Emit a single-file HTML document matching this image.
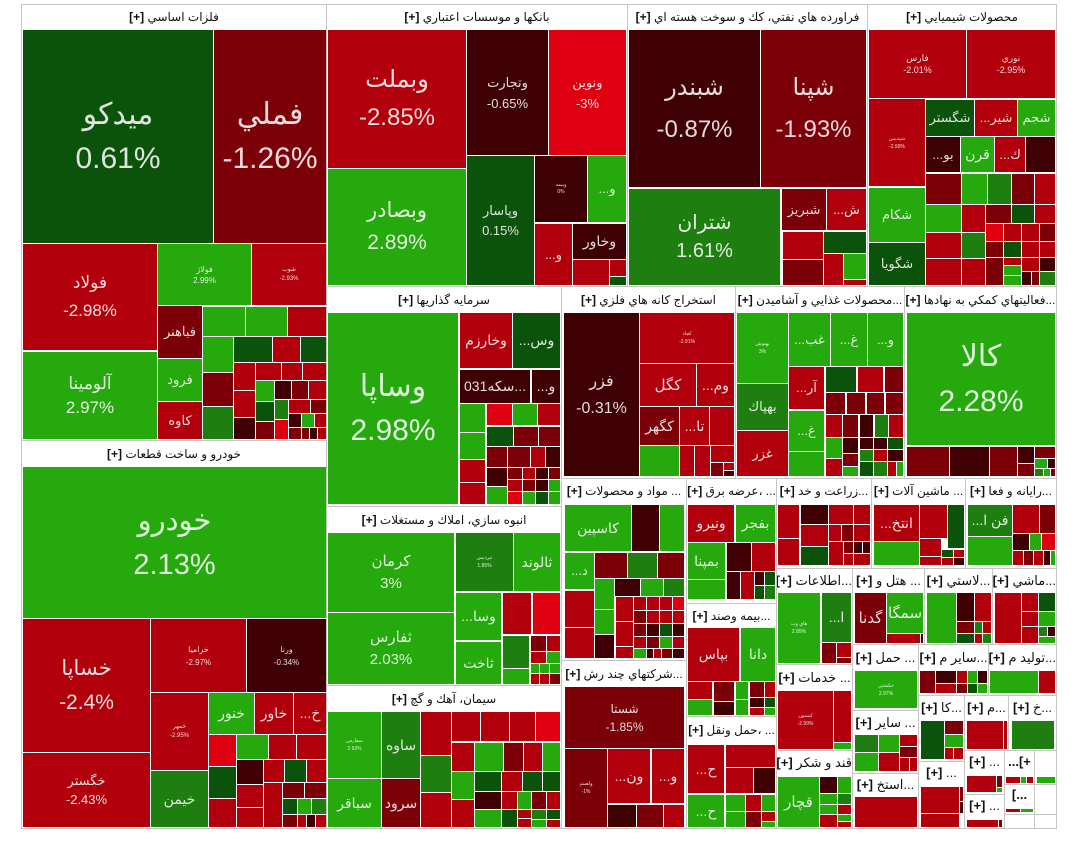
<!DOCTYPE html>
<html><head><meta charset="utf-8">
<style>
html,body{margin:0;padding:0}
body{width:1080px;height:856px;background:#fff;position:relative;overflow:hidden;font-family:"Liberation Sans","DejaVu Sans",sans-serif}
.g{position:absolute;box-sizing:border-box;border:1px solid #c6c6c6;background:#fff;direction:rtl;text-align:center;font-size:12px;color:#111;white-space:nowrap;overflow:hidden;line-height:24px}
.g b{font-weight:bold;font-family:"Liberation Sans",sans-serif}
.s{font-size:13px;line-height:22px}
.c{position:absolute;display:flex;flex-direction:column;align-items:center;justify-content:center;color:rgba(255,255,255,.86);overflow:hidden;white-space:nowrap;font-size:13px}
.c b{font-weight:normal;display:block;text-align:center}
.G{background:#0b530b}.B{background:#25a90d}.M{background:#1e7f10}
.R{background:#b1000c}.D{background:#7b0008}.K{background:#3f0003}.E{background:#de0010}
</style></head><body>

<!-- groups -->
<div class="g" style="left:21px;top:4px;width:306px;height:437px;line-height:25px">فلزات اساسي <b>[+]</b></div>
<div class="g" style="left:21px;top:440px;width:306px;height:389px;line-height:27px">خودرو و ساخت قطعات <b>[+]</b></div>
<div class="g" style="left:326px;top:4px;width:302px;height:283px;line-height:25px">بانكها و موسسات اعتباري <b>[+]</b></div>
<div class="g" style="left:627px;top:4px;width:241px;height:283px;line-height:25px">فراورده هاي نفتي، كك و سوخت هسته اي <b>[+]</b></div>
<div class="g" style="left:867px;top:4px;width:190px;height:283px;line-height:25px">محصولات شيميايي <b>[+]</b></div>
<div class="g" style="left:326px;top:286px;width:236px;height:221px;line-height:26px">سرمايه گذاريها <b>[+]</b></div>
<div class="g" style="left:561px;top:286px;width:175px;height:193px;line-height:26px">استخراج كانه هاي فلزي <b>[+]</b></div>
<div class="g" style="left:735px;top:286px;width:170px;height:193px;line-height:26px">...محصولات غذايي و آشاميدن <b>[+]</b></div>
<div class="g" style="left:904px;top:286px;width:153px;height:193px;line-height:26px">...فعاليتهاي كمكي به نهادها <b>[+]</b></div>
<div class="g" style="left:326px;top:506px;width:236px;height:180px;line-height:26px">انبوه سازي، املاك و مستغلات <b>[+]</b></div>
<div class="g" style="left:326px;top:685px;width:236px;height:144px;line-height:26px">سيمان، آهك و گچ <b>[+]</b></div>
<div class="g" style="left:561px;top:478px;width:126px;height:183px;line-height:25px">... مواد و محصولات <b>[+]</b></div>
<div class="g" style="left:561px;top:660px;width:126px;height:169px;line-height:26px">...شركتهاي چند رش <b>[+]</b></div>
<div class="g" style="left:686px;top:478px;width:91px;height:126px;line-height:25px">... ،عرضه برق <b>[+]</b></div>
<div class="g" style="left:686px;top:603px;width:91px;height:114px;line-height:25px">...بيمه وصند <b>[+]</b></div>
<div class="g" style="left:686px;top:716px;width:91px;height:113px;line-height:26px">... ،حمل ونقل <b>[+]</b></div>
<div class="g" style="left:776px;top:478px;width:96px;height:91px;line-height:25px">...زراعت و خد <b>[+]</b></div>
<div class="g" style="left:871px;top:478px;width:95px;height:91px;line-height:25px">... ماشين آلات <b>[+]</b></div>
<div class="g" style="left:965px;top:478px;width:92px;height:91px;line-height:25px">...رايانه و فعا <b>[+]</b></div>
<div class="g s" style="left:776px;top:568px;width:77px;height:97px;line-height:24px">...اطلاعات <b>[+]</b></div>
<div class="g s" style="left:852px;top:568px;width:73px;height:77px;line-height:24px">... هتل و <b>[+]</b></div>
<div class="g s" style="left:924px;top:568px;width:69px;height:77px;line-height:24px">...لاستي <b>[+]</b></div>
<div class="g s" style="left:992px;top:568px;width:65px;height:77px;line-height:24px">...ماشي <b>[+]</b></div>
<div class="g s" style="left:776px;top:664px;width:77px;height:87px;line-height:25px">... خدمات <b>[+]</b></div>
<div class="g s" style="left:776px;top:750px;width:77px;height:79px;line-height:24px">قند و شكر <b>[+]</b></div>
<div class="g s" style="left:852px;top:644px;width:67px;height:67px;line-height:25px">... حمل <b>[+]</b></div>
<div class="g s" style="left:918px;top:644px;width:71px;height:52px;line-height:25px">...ساير م <b>[+]</b></div>
<div class="g s" style="left:988px;top:644px;width:69px;height:52px;line-height:25px">...توليد م <b>[+]</b></div>
<div class="g s" style="left:918px;top:695px;width:47px;height:67px;line-height:23px">...كا <b>[+]</b></div>
<div class="g s" style="left:964px;top:695px;width:45px;height:56px;line-height:23px">...م <b>[+]</b></div>
<div class="g s" style="left:1008px;top:695px;width:49px;height:56px;line-height:23px">...خ <b>[+]</b></div>
<div class="g s" style="left:852px;top:710px;width:67px;height:64px;line-height:23px">... ساير <b>[+]</b></div>
<div class="g s" style="left:852px;top:773px;width:67px;height:56px;line-height:22px">...استخ <b>[+]</b></div>
<div class="g s" style="left:918px;top:761px;width:47px;height:68px;line-height:22px">... <b>[+]</b></div>
<div class="g s" style="left:964px;top:750px;width:41px;height:45px;line-height:22px">... <b>[+]</b></div>
<div class="g s" style="left:964px;top:794px;width:41px;height:35px;line-height:22px">... <b>[+]</b></div>
<div class="g s" style="left:1004px;top:750px;width:31px;height:35px;line-height:22px"><b>+]...</b></div>
<div class="g s" style="left:1034px;top:750px;width:23px;height:35px"></div>
<div class="g s" style="left:1004px;top:784px;width:31px;height:31px;line-height:20px"><b>...]</b></div>
<div class="g s" style="left:1034px;top:784px;width:23px;height:31px"></div>
<div class="g s" style="left:1004px;top:814px;width:31px;height:15px"></div>
<div class="g s" style="left:1034px;top:814px;width:23px;height:15px"></div>

<!-- G1 فلزات اساسي -->
<div class="c G" style="left:23px;top:30px;width:190px;height:213px;font-size:30px;line-height:44px"><b>ميدكو</b><b>0.61%</b></div>
<div class="c D" style="left:214px;top:30px;width:112px;height:213px;font-size:30px;line-height:44px"><b>فملي</b><b>-1.26%</b></div>
<div class="c R" style="left:23px;top:244px;width:134px;height:106px;font-size:17px;line-height:28px"><b>فولاد</b><b>-2.98%</b></div>
<div class="c B" style="left:23px;top:352px;width:134px;height:87px;font-size:17px;line-height:24px"><b>آلومينا</b><b>2.97%</b></div>
<div class="c B" style="left:158px;top:244px;width:93px;height:61px;font-size:8px;line-height:11px"><b>فولاژ</b><b>2.99%</b></div>
<div class="c R" style="left:252px;top:244px;width:74px;height:61px;font-size:6px;line-height:9px"><b>شوب</b><b>-2.93%</b></div>
<div class="c D" style="left:158px;top:306px;width:44px;height:52px"><b>فباهنر</b></div>
<div class="c B" style="left:158px;top:359px;width:44px;height:42px"><b>فرود</b></div>
<div class="c R" style="left:158px;top:402px;width:44px;height:37px"><b>كاوه</b></div>
<div class="c B" style="left:203px;top:307px;width:42px;height:29px"></div>
<div class="c B" style="left:246px;top:307px;width:41px;height:29px"></div>
<div class="c R" style="left:288px;top:307px;width:38px;height:29px"></div>
<div class="c B" style="left:203px;top:337px;width:30px;height:35px"></div>
<div class="c G" style="left:234px;top:337px;width:38px;height:25px"></div>
<div class="c R" style="left:273px;top:337px;width:27px;height:25px"></div>
<div class="c G" style="left:301px;top:337px;width:25px;height:25px"></div>
<div class="c D" style="left:203px;top:373px;width:30px;height:33px"></div>
<div class="c M" style="left:203px;top:407px;width:30px;height:32px"></div>
<div class="c R" style="left:234px;top:363px;width:21px;height:27px"></div>
<div class="c R" style="left:234px;top:391px;width:21px;height:26px"></div>
<div class="c K" style="left:234px;top:418px;width:21px;height:21px"></div>
<div class="c R" style="left:256px;top:363px;width:25px;height:17px"></div>
<div class="c R" style="left:282px;top:363px;width:20px;height:17px"></div>
<div class="c R" style="left:303px;top:363px;width:23px;height:17px"></div>
<div class="c B" style="left:256px;top:381px;width:18px;height:20px"></div>
<div class="c K" style="left:275px;top:381px;width:16px;height:18px"></div>
<div class="c D" style="left:292px;top:381px;width:16px;height:18px"></div>
<div class="c R" style="left:309px;top:381px;width:17px;height:18px"></div>
<div class="c G" style="left:256px;top:402px;width:18px;height:19px"></div>
<div class="c M" style="left:275px;top:400px;width:13px;height:19px"></div>
<div class="c R" style="left:289px;top:400px;width:21px;height:13px"></div>
<div class="c D" style="left:311px;top:400px;width:15px;height:13px"></div>
<div class="c D" style="left:256px;top:422px;width:18px;height:17px"></div>
<div class="c E" style="left:275px;top:420px;width:13px;height:19px"></div>
<div class="c K" style="left:289px;top:414px;width:12px;height:13px"></div>
<div class="c B" style="left:302px;top:414px;width:12px;height:13px"></div>
<div class="c R" style="left:315px;top:414px;width:11px;height:13px"></div>
<div class="c D" style="left:289px;top:428px;width:12px;height:11px"></div>
<div class="c D" style="left:302px;top:428px;width:7px;height:11px"></div>
<div class="c K" style="left:310px;top:428px;width:7px;height:11px"></div>
<div class="c R" style="left:318px;top:428px;width:8px;height:11px"></div>

<!-- G2 خودرو -->
<div class="c B" style="left:23px;top:467px;width:303px;height:151px;font-size:29px;line-height:44px"><b>خودرو</b><b>2.13%</b></div>
<div class="c R" style="left:23px;top:619px;width:127px;height:133px;font-size:21px;line-height:34px"><b>خساپا</b><b>-2.4%</b></div>
<div class="c R" style="left:23px;top:753px;width:127px;height:74px;font-size:13px;line-height:19px"><b>خگستر</b><b>-2.43%</b></div>
<div class="c R" style="left:151px;top:619px;width:95px;height:73px;font-size:8px;line-height:13px"><b>خراميا</b><b>-2.97%</b></div>
<div class="c K" style="left:247px;top:619px;width:79px;height:73px;font-size:8px;line-height:13px"><b>ورنا</b><b>-0.34%</b></div>
<div class="c R" style="left:151px;top:693px;width:57px;height:77px;font-size:6px;line-height:9px"><b>خمهر</b><b>-2.95%</b></div>
<div class="c M" style="left:151px;top:771px;width:57px;height:56px;font-size:14px"><b>خيمن</b></div>
<div class="c B" style="left:209px;top:693px;width:45px;height:41px;font-size:14px"><b>خنور</b></div>
<div class="c R" style="left:255px;top:693px;width:38px;height:41px;font-size:14px"><b>خاور</b></div>
<div class="c R" style="left:294px;top:693px;width:32px;height:41px;font-size:14px"><b>...خ</b></div>
<div class="c E" style="left:209px;top:735px;width:27px;height:31px"></div>
<div class="c B" style="left:237px;top:735px;width:31px;height:24px"></div>
<div class="c R" style="left:269px;top:735px;width:27px;height:24px"></div>
<div class="c R" style="left:297px;top:735px;width:29px;height:24px"></div>
<div class="c G" style="left:209px;top:767px;width:27px;height:31px"></div>
<div class="c R" style="left:209px;top:799px;width:27px;height:28px"></div>
<div class="c K" style="left:237px;top:760px;width:26px;height:24px"></div>
<div class="c R" style="left:237px;top:785px;width:26px;height:22px"></div>
<div class="c R" style="left:237px;top:808px;width:26px;height:19px"></div>
<div class="c R" style="left:264px;top:760px;width:20px;height:22px"></div>
<div class="c G" style="left:285px;top:760px;width:21px;height:22px"></div>
<div class="c R" style="left:307px;top:760px;width:19px;height:22px"></div>
<div class="c R" style="left:264px;top:783px;width:18px;height:44px"></div>
<div class="c D" style="left:283px;top:783px;width:21px;height:15px"></div>
<div class="c D" style="left:305px;top:783px;width:21px;height:15px"></div>
<div class="c G" style="left:283px;top:799px;width:14px;height:15px"></div>
<div class="c B" style="left:298px;top:799px;width:13px;height:15px"></div>
<div class="c M" style="left:312px;top:799px;width:14px;height:15px"></div>
<div class="c D" style="left:283px;top:815px;width:14px;height:12px"></div>
<div class="c R" style="left:298px;top:815px;width:8px;height:12px"></div>
<div class="c K" style="left:307px;top:815px;width:8px;height:12px"></div>
<div class="c R" style="left:316px;top:815px;width:10px;height:12px"></div>

<!-- G3 بانكها -->
<div class="c R" style="left:328px;top:30px;width:138px;height:138px;font-size:24px;line-height:38px"><b>وبملت</b><b>-2.85%</b></div>
<div class="c B" style="left:328px;top:169px;width:138px;height:116px;font-size:21px;line-height:32px"><b>وبصادر</b><b>2.89%</b></div>
<div class="c K" style="left:467px;top:30px;width:81px;height:125px;font-size:13px;line-height:21px"><b>وتجارت</b><b>-0.65%</b></div>
<div class="c E" style="left:549px;top:30px;width:77px;height:125px;font-size:13px;line-height:21px"><b>ونوين</b><b>-3%</b></div>
<div class="c G" style="left:467px;top:156px;width:67px;height:129px;font-size:13px;line-height:20px"><b>وپاسار</b><b>0.15%</b></div>
<div class="c K" style="left:535px;top:156px;width:52px;height:66px;font-size:5px;line-height:7px"><b>وبيمه</b><b>0%</b></div>
<div class="c B" style="left:588px;top:156px;width:38px;height:66px;font-size:13px"><b>...و</b></div>
<div class="c R" style="left:535px;top:224px;width:37px;height:61px;font-size:13px"><b>...و</b></div>
<div class="c K" style="left:573px;top:224px;width:53px;height:35px;font-size:14px"><b>وخاور</b></div>
<div class="c R" style="left:573px;top:260px;width:36px;height:25px"></div>
<div class="c R" style="left:610px;top:260px;width:16px;height:16px"></div>
<div class="c G" style="left:610px;top:277px;width:16px;height:8px"></div>

<!-- G4 نفت -->
<div class="c K" style="left:629px;top:30px;width:131px;height:157px;font-size:24px;line-height:42px"><b>شبندر</b><b>-0.87%</b></div>
<div class="c D" style="left:761px;top:30px;width:105px;height:157px;font-size:24px;line-height:42px"><b>شپنا</b><b>-1.93%</b></div>
<div class="c M" style="left:629px;top:189px;width:151px;height:96px;font-size:20px;line-height:28px"><b>شتران</b><b>1.61%</b></div>
<div class="c D" style="left:782px;top:189px;width:44px;height:41px"><b>شبريز</b></div>
<div class="c R" style="left:827px;top:189px;width:39px;height:41px"><b>...ش</b></div>
<div class="c R" style="left:783px;top:232px;width:40px;height:27px"></div>
<div class="c G" style="left:824px;top:232px;width:42px;height:21px"></div>
<div class="c D" style="left:783px;top:260px;width:40px;height:25px"></div>
<div class="c R" style="left:824px;top:254px;width:19px;height:31px"></div>
<div class="c B" style="left:844px;top:254px;width:22px;height:25px"></div>
<div class="c R" style="left:844px;top:280px;width:22px;height:5px"></div>

<!-- G5 شيميايي -->
<div class="c R" style="left:869px;top:30px;width:97px;height:68px;font-size:9px;line-height:12px"><b>فارس</b><b>-2.01%</b></div>
<div class="c R" style="left:967px;top:30px;width:88px;height:68px;font-size:9px;line-height:12px"><b>نوري</b><b>-2.95%</b></div>
<div class="c R" style="left:869px;top:99px;width:56px;height:87px;font-size:5px;line-height:8px"><b>شپديس</b><b>-2.99%</b></div>
<div class="c G" style="left:926px;top:100px;width:48px;height:36px"><b>شگستر</b></div>
<div class="c R" style="left:975px;top:100px;width:42px;height:36px"><b>...شير</b></div>
<div class="c B" style="left:1018px;top:100px;width:37px;height:36px"><b>شجم</b></div>
<div class="c K" style="left:926px;top:137px;width:34px;height:35px"><b>...بو</b></div>
<div class="c B" style="left:961px;top:137px;width:33px;height:35px;font-size:14px"><b>قرن</b></div>
<div class="c R" style="left:995px;top:137px;width:30px;height:35px"><b>...ك</b></div>
<div class="c K" style="left:1026px;top:137px;width:29px;height:35px"></div>
<div class="c B" style="left:869px;top:188px;width:56px;height:54px"><b>شكام</b></div>
<div class="c G" style="left:869px;top:243px;width:56px;height:42px"><b>شگويا</b></div>
<div class="c D" style="left:926px;top:174px;width:35px;height:30px"></div>
<div class="c B" style="left:962px;top:174px;width:25px;height:30px"></div>
<div class="c M" style="left:988px;top:174px;width:23px;height:30px"></div>
<div class="c D" style="left:1012px;top:174px;width:22px;height:30px"></div>
<div class="c R" style="left:1035px;top:174px;width:20px;height:30px"></div>
<div class="c B" style="left:926px;top:205px;width:35px;height:27px"></div>
<div class="c R" style="left:962px;top:205px;width:23px;height:27px"></div>
<div class="c D" style="left:986px;top:205px;width:25px;height:18px"></div>
<div class="c G" style="left:1012px;top:205px;width:22px;height:18px"></div>
<div class="c R" style="left:1035px;top:205px;width:20px;height:18px"></div>
<div class="c R" style="left:926px;top:233px;width:35px;height:25px"></div>
<div class="c R" style="left:926px;top:259px;width:35px;height:26px"></div>
<div class="c M" style="left:962px;top:233px;width:23px;height:25px"></div>
<div class="c R" style="left:962px;top:259px;width:23px;height:26px"></div>
<div class="c E" style="left:986px;top:224px;width:17px;height:17px"></div>
<div class="c R" style="left:1004px;top:224px;width:17px;height:17px"></div>
<div class="c R" style="left:1022px;top:224px;width:17px;height:17px"></div>
<div class="c D" style="left:1040px;top:224px;width:15px;height:17px"></div>
<div class="c D" style="left:986px;top:242px;width:17px;height:15px"></div>
<div class="c G" style="left:1004px;top:242px;width:17px;height:15px"></div>
<div class="c R" style="left:1022px;top:242px;width:17px;height:15px"></div>
<div class="c R" style="left:1040px;top:242px;width:15px;height:15px"></div>
<div class="c D" style="left:986px;top:258px;width:17px;height:27px"></div>
<div class="c R" style="left:1004px;top:258px;width:17px;height:7px"></div>
<div class="c B" style="left:1004px;top:266px;width:17px;height:9px"></div>
<div class="c B" style="left:1004px;top:276px;width:17px;height:9px"></div>
<div class="c R" style="left:1022px;top:258px;width:17px;height:13px"></div>
<div class="c K" style="left:1022px;top:272px;width:9px;height:13px"></div>
<div class="c D" style="left:1032px;top:272px;width:7px;height:13px"></div>
<div class="c K" style="left:1040px;top:258px;width:15px;height:13px"></div>
<div class="c M" style="left:1040px;top:272px;width:15px;height:13px"></div>

<!-- G6 سرمايه گذاريها -->
<div class="c B" style="left:328px;top:313px;width:130px;height:191px;font-size:30px;line-height:44px"><b>وساپا</b><b>2.98%</b></div>
<div class="c R" style="left:460px;top:313px;width:52px;height:55px;font-size:14px"><b>وخارزم</b></div>
<div class="c G" style="left:513px;top:313px;width:47px;height:55px;font-size:14px"><b>...وس</b></div>
<div class="c K" style="left:460px;top:370px;width:70px;height:33px;font-size:14px"><b>031سكه...</b></div>
<div class="c K" style="left:532px;top:370px;width:28px;height:33px;font-size:14px"><b>...و</b></div>
<div class="c B" style="left:460px;top:404px;width:25px;height:28px"></div>
<div class="c E" style="left:487px;top:404px;width:25px;height:21px"></div>
<div class="c B" style="left:513px;top:404px;width:24px;height:21px"></div>
<div class="c R" style="left:538px;top:404px;width:22px;height:21px"></div>
<div class="c B" style="left:460px;top:433px;width:25px;height:26px"></div>
<div class="c G" style="left:487px;top:427px;width:26px;height:19px"></div>
<div class="c D" style="left:514px;top:427px;width:24px;height:19px"></div>
<div class="c D" style="left:539px;top:427px;width:21px;height:19px"></div>
<div class="c R" style="left:460px;top:460px;width:25px;height:22px"></div>
<div class="c R" style="left:460px;top:483px;width:25px;height:21px"></div>
<div class="c D" style="left:487px;top:447px;width:20px;height:20px"></div>
<div class="c D" style="left:508px;top:447px;width:22px;height:20px"></div>
<div class="c R" style="left:531px;top:447px;width:14px;height:20px"></div>
<div class="c K" style="left:546px;top:447px;width:14px;height:20px"></div>
<div class="c K" style="left:487px;top:468px;width:20px;height:18px"></div>
<div class="c B" style="left:487px;top:487px;width:20px;height:17px"></div>
<div class="c D" style="left:508px;top:468px;width:14px;height:11px"></div>
<div class="c R" style="left:523px;top:468px;width:12px;height:11px"></div>
<div class="c K" style="left:536px;top:468px;width:12px;height:11px"></div>
<div class="c D" style="left:549px;top:468px;width:11px;height:11px"></div>
<div class="c R" style="left:508px;top:480px;width:14px;height:11px"></div>
<div class="c D" style="left:523px;top:480px;width:12px;height:11px"></div>
<div class="c K" style="left:536px;top:480px;width:12px;height:11px"></div>
<div class="c B" style="left:549px;top:480px;width:11px;height:11px"></div>
<div class="c E" style="left:508px;top:492px;width:14px;height:12px"></div>
<div class="c B" style="left:523px;top:492px;width:12px;height:12px"></div>
<div class="c G" style="left:536px;top:492px;width:12px;height:12px"></div>
<div class="c B" style="left:549px;top:492px;width:11px;height:12px"></div>

<!-- G7 استخراج -->
<div class="c K" style="left:564px;top:313px;width:75px;height:163px;font-size:16px;line-height:27px"><b>فزر</b><b>-0.31%</b></div>
<div class="c R" style="left:640px;top:313px;width:94px;height:50px;font-size:5px;line-height:8px"><b>كچاد</b><b>-2.91%</b></div>
<div class="c R" style="left:640px;top:364px;width:56px;height:42px;font-size:15px"><b>كگل</b></div>
<div class="c R" style="left:697px;top:364px;width:37px;height:42px;font-size:14px"><b>...وم</b></div>
<div class="c D" style="left:640px;top:407px;width:39px;height:38px;font-size:14px"><b>كگهر</b></div>
<div class="c R" style="left:680px;top:407px;width:29px;height:38px;font-size:14px"><b>...تا</b></div>
<div class="c R" style="left:710px;top:407px;width:24px;height:38px"></div>
<div class="c B" style="left:640px;top:446px;width:39px;height:30px"></div>
<div class="c R" style="left:680px;top:446px;width:14px;height:30px"></div>
<div class="c R" style="left:695px;top:446px;width:15px;height:30px"></div>
<div class="c R" style="left:711px;top:446px;width:23px;height:16px"></div>
<div class="c D" style="left:711px;top:463px;width:12px;height:13px"></div>
<div class="c R" style="left:724px;top:463px;width:10px;height:7px"></div>
<div class="c K" style="left:724px;top:471px;width:10px;height:5px"></div>

<!-- G8 غذايي -->
<div class="c B" style="left:737px;top:313px;width:51px;height:70px;font-size:5px;line-height:8px"><b>بهنوش</b><b>3%</b></div>
<div class="c M" style="left:737px;top:384px;width:51px;height:46px"><b>بهپاك</b></div>
<div class="c R" style="left:737px;top:431px;width:51px;height:45px"><b>غزر</b></div>
<div class="c B" style="left:789px;top:313px;width:41px;height:53px"><b>...غب</b></div>
<div class="c B" style="left:831px;top:313px;width:36px;height:53px"><b>...غ</b></div>
<div class="c B" style="left:868px;top:313px;width:35px;height:53px"><b>...و</b></div>
<div class="c R" style="left:789px;top:367px;width:35px;height:42px"><b>...آر</b></div>
<div class="c B" style="left:789px;top:411px;width:35px;height:40px"><b>...غ</b></div>
<div class="c B" style="left:789px;top:452px;width:35px;height:24px"></div>
<div class="c G" style="left:826px;top:367px;width:30px;height:25px"></div>
<div class="c R" style="left:858px;top:367px;width:25px;height:25px"></div>
<div class="c D" style="left:885px;top:367px;width:18px;height:25px"></div>
<div class="c D" style="left:826px;top:393px;width:19px;height:21px"></div>
<div class="c D" style="left:847px;top:393px;width:18px;height:21px"></div>
<div class="c D" style="left:867px;top:393px;width:17px;height:21px"></div>
<div class="c D" style="left:886px;top:393px;width:17px;height:21px"></div>
<div class="c R" style="left:826px;top:415px;width:16px;height:22px"></div>
<div class="c D" style="left:843px;top:415px;width:15px;height:22px"></div>
<div class="c K" style="left:860px;top:415px;width:13px;height:22px"></div>
<div class="c M" style="left:875px;top:415px;width:13px;height:22px"></div>
<div class="c R" style="left:889px;top:415px;width:14px;height:22px"></div>
<div class="c B" style="left:826px;top:438px;width:16px;height:20px"></div>
<div class="c R" style="left:826px;top:459px;width:16px;height:17px"></div>
<div class="c K" style="left:843px;top:438px;width:15px;height:15px"></div>
<div class="c D" style="left:843px;top:454px;width:15px;height:12px"></div>
<div class="c B" style="left:843px;top:467px;width:15px;height:9px"></div>
<div class="c K" style="left:860px;top:438px;width:13px;height:11px"></div>
<div class="c K" style="left:874px;top:438px;width:13px;height:11px"></div>
<div class="c G" style="left:888px;top:438px;width:15px;height:11px"></div>
<div class="c M" style="left:860px;top:450px;width:13px;height:11px"></div>
<div class="c R" style="left:874px;top:450px;width:13px;height:11px"></div>
<div class="c K" style="left:888px;top:450px;width:15px;height:11px"></div>
<div class="c G" style="left:860px;top:462px;width:13px;height:14px"></div>
<div class="c M" style="left:874px;top:462px;width:13px;height:14px"></div>
<div class="c R" style="left:888px;top:462px;width:8px;height:14px"></div>
<div class="c B" style="left:897px;top:462px;width:6px;height:14px"></div>

<!-- G9 فعاليتهاي كمكي -->
<div class="c B" style="left:907px;top:313px;width:148px;height:132px;font-size:30px;line-height:45px"><b>كالا</b><b>2.28%</b></div>
<div class="c D" style="left:907px;top:447px;width:42px;height:29px"></div>
<div class="c K" style="left:950px;top:447px;width:39px;height:29px"></div>
<div class="c D" style="left:990px;top:447px;width:27px;height:29px"></div>
<div class="c K" style="left:1018px;top:447px;width:16px;height:16px"></div>
<div class="c D" style="left:1018px;top:464px;width:16px;height:12px"></div>
<div class="c D" style="left:1035px;top:447px;width:20px;height:11px"></div>
<div class="c B" style="left:1035px;top:459px;width:12px;height:9px"></div>
<div class="c K" style="left:1048px;top:459px;width:7px;height:9px"></div>
<div class="c M" style="left:1035px;top:469px;width:8px;height:7px"></div>
<div class="c B" style="left:1044px;top:469px;width:6px;height:7px"></div>
<div class="c D" style="left:1051px;top:469px;width:4px;height:7px"></div>

<!-- G10 انبوه سازي -->
<div class="c B" style="left:328px;top:533px;width:126px;height:79px;font-size:15px;line-height:22px"><b>كرمان</b><b>3%</b></div>
<div class="c B" style="left:328px;top:613px;width:126px;height:71px;font-size:15px;line-height:22px"><b>ثفارس</b><b>2.03%</b></div>
<div class="c M" style="left:456px;top:533px;width:57px;height:58px;font-size:5px;line-height:8px"><b>ثپرديس</b><b>1.85%</b></div>
<div class="c B" style="left:514px;top:533px;width:46px;height:58px;font-size:14px"><b>ثالوند</b></div>
<div class="c B" style="left:456px;top:593px;width:45px;height:47px;font-size:14px"><b>...وسا</b></div>
<div class="c B" style="left:456px;top:642px;width:45px;height:42px;font-size:14px"><b>ثاخت</b></div>
<div class="c R" style="left:503px;top:593px;width:28px;height:41px"></div>
<div class="c E" style="left:533px;top:593px;width:27px;height:41px"></div>
<div class="c M" style="left:503px;top:636px;width:26px;height:32px"></div>
<div class="c B" style="left:503px;top:669px;width:26px;height:15px"></div>
<div class="c D" style="left:531px;top:636px;width:15px;height:15px"></div>
<div class="c R" style="left:547px;top:636px;width:13px;height:15px"></div>
<div class="c R" style="left:531px;top:652px;width:15px;height:11px"></div>
<div class="c B" style="left:547px;top:652px;width:13px;height:11px"></div>
<div class="c B" style="left:531px;top:664px;width:8px;height:9px"></div>
<div class="c B" style="left:540px;top:664px;width:9px;height:9px"></div>
<div class="c B" style="left:550px;top:664px;width:10px;height:9px"></div>
<div class="c R" style="left:531px;top:674px;width:8px;height:10px"></div>
<div class="c R" style="left:540px;top:674px;width:9px;height:10px"></div>
<div class="c D" style="left:550px;top:674px;width:10px;height:10px"></div>

<!-- G11 سيمان -->
<div class="c B" style="left:328px;top:712px;width:53px;height:66px;font-size:5px;line-height:8px"><b>سفارس</b><b>2.93%</b></div>
<div class="c M" style="left:382px;top:712px;width:38px;height:66px;font-size:14px"><b>ساوه</b></div>
<div class="c B" style="left:328px;top:779px;width:53px;height:48px;font-size:14px"><b>سباقر</b></div>
<div class="c D" style="left:382px;top:779px;width:38px;height:48px;font-size:14px"><b>سرود</b></div>
<div class="c R" style="left:421px;top:712px;width:30px;height:43px"></div>
<div class="c R" style="left:452px;top:712px;width:28px;height:29px"></div>
<div class="c R" style="left:481px;top:712px;width:28px;height:29px"></div>
<div class="c R" style="left:510px;top:712px;width:25px;height:29px"></div>
<div class="c E" style="left:536px;top:712px;width:24px;height:29px"></div>
<div class="c M" style="left:421px;top:756px;width:30px;height:36px"></div>
<div class="c R" style="left:421px;top:793px;width:30px;height:34px"></div>
<div class="c R" style="left:452px;top:743px;width:22px;height:28px"></div>
<div class="c B" style="left:475px;top:743px;width:28px;height:28px"></div>
<div class="c D" style="left:504px;top:743px;width:19px;height:28px"></div>
<div class="c R" style="left:524px;top:743px;width:18px;height:28px"></div>
<div class="c B" style="left:543px;top:743px;width:17px;height:28px"></div>
<div class="c B" style="left:452px;top:772px;width:22px;height:27px"></div>
<div class="c G" style="left:475px;top:772px;width:26px;height:19px"></div>
<div class="c R" style="left:502px;top:772px;width:20px;height:19px"></div>
<div class="c G" style="left:523px;top:772px;width:19px;height:19px"></div>
<div class="c G" style="left:543px;top:772px;width:17px;height:19px"></div>
<div class="c R" style="left:452px;top:800px;width:22px;height:27px"></div>
<div class="c K" style="left:475px;top:792px;width:26px;height:17px"></div>
<div class="c R" style="left:502px;top:792px;width:15px;height:17px"></div>
<div class="c B" style="left:518px;top:792px;width:13px;height:17px"></div>
<div class="c D" style="left:532px;top:792px;width:14px;height:17px"></div>
<div class="c R" style="left:547px;top:792px;width:13px;height:17px"></div>
<div class="c B" style="left:475px;top:810px;width:26px;height:17px"></div>
<div class="c G" style="left:502px;top:810px;width:15px;height:17px"></div>
<div class="c R" style="left:518px;top:810px;width:13px;height:8px"></div>
<div class="c M" style="left:532px;top:810px;width:14px;height:9px"></div>
<div class="c G" style="left:547px;top:810px;width:13px;height:9px"></div>
<div class="c R" style="left:518px;top:819px;width:13px;height:8px"></div>
<div class="c B" style="left:532px;top:820px;width:14px;height:7px"></div>
<div class="c R" style="left:547px;top:820px;width:13px;height:7px"></div>

<!-- G12 مواد و محصولات -->
<div class="c B" style="left:565px;top:505px;width:66px;height:46px;font-size:14px"><b>كاسپين</b></div>
<div class="c K" style="left:632px;top:505px;width:27px;height:46px"></div>
<div class="c B" style="left:660px;top:505px;width:24px;height:46px"></div>
<div class="c B" style="left:565px;top:553px;width:29px;height:36px"><b>...د</b></div>
<div class="c D" style="left:595px;top:553px;width:32px;height:25px"></div>
<div class="c M" style="left:628px;top:553px;width:29px;height:25px"></div>
<div class="c D" style="left:658px;top:553px;width:26px;height:25px"></div>
<div class="c B" style="left:595px;top:579px;width:19px;height:30px"></div>
<div class="c K" style="left:615px;top:579px;width:25px;height:17px"></div>
<div class="c B" style="left:641px;top:579px;width:22px;height:17px"></div>
<div class="c M" style="left:664px;top:579px;width:20px;height:17px"></div>
<div class="c R" style="left:565px;top:591px;width:29px;height:36px"></div>
<div class="c R" style="left:565px;top:628px;width:29px;height:30px"></div>
<div class="c B" style="left:595px;top:610px;width:19px;height:24px"></div>
<div class="c K" style="left:595px;top:635px;width:19px;height:23px"></div>
<div class="c R" style="left:616px;top:597px;width:17px;height:24px"></div>
<div class="c R" style="left:616px;top:622px;width:17px;height:24px"></div>
<div class="c R" style="left:616px;top:647px;width:17px;height:11px"></div>
<div class="c R" style="left:634px;top:597px;width:12px;height:13px"></div>
<div class="c R" style="left:647px;top:597px;width:12px;height:13px"></div>
<div class="c R" style="left:660px;top:597px;width:12px;height:13px"></div>
<div class="c E" style="left:673px;top:597px;width:11px;height:13px"></div>
<div class="c D" style="left:634px;top:611px;width:12px;height:12px"></div>
<div class="c R" style="left:647px;top:611px;width:12px;height:12px"></div>
<div class="c R" style="left:660px;top:611px;width:12px;height:12px"></div>
<div class="c R" style="left:673px;top:611px;width:11px;height:12px"></div>
<div class="c D" style="left:634px;top:624px;width:12px;height:12px"></div>
<div class="c K" style="left:647px;top:624px;width:12px;height:12px"></div>
<div class="c G" style="left:660px;top:624px;width:12px;height:12px"></div>
<div class="c K" style="left:673px;top:624px;width:11px;height:12px"></div>
<div class="c R" style="left:634px;top:637px;width:12px;height:11px"></div>
<div class="c D" style="left:647px;top:637px;width:12px;height:11px"></div>
<div class="c B" style="left:660px;top:637px;width:12px;height:11px"></div>
<div class="c R" style="left:673px;top:637px;width:11px;height:11px"></div>
<div class="c B" style="left:634px;top:649px;width:12px;height:9px"></div>
<div class="c K" style="left:647px;top:649px;width:6px;height:9px"></div>
<div class="c R" style="left:654px;top:649px;width:7px;height:9px"></div>
<div class="c D" style="left:662px;top:649px;width:10px;height:9px"></div>
<div class="c K" style="left:673px;top:649px;width:11px;height:9px"></div>

<!-- G13 شركتهاي چند رشته -->
<div class="c D" style="left:565px;top:687px;width:119px;height:61px;font-size:12px;line-height:18px"><b>شستا</b><b>-1.85%</b></div>
<div class="c D" style="left:565px;top:749px;width:42px;height:78px;font-size:5px;line-height:8px"><b>ولصنم</b><b>-1%</b></div>
<div class="c R" style="left:608px;top:749px;width:42px;height:54px;font-size:14px"><b>...ون</b></div>
<div class="c R" style="left:652px;top:749px;width:32px;height:54px;font-size:14px"><b>...و</b></div>
<div class="c K" style="left:608px;top:805px;width:28px;height:22px"></div>
<div class="c D" style="left:637px;top:805px;width:26px;height:22px"></div>
<div class="c R" style="left:664px;top:805px;width:20px;height:22px"></div>

<!-- G14 برق -->
<div class="c R" style="left:688px;top:505px;width:46px;height:37px;font-size:14px"><b>ونيرو</b></div>
<div class="c B" style="left:736px;top:505px;width:39px;height:37px;font-size:14px"><b>بفجر</b></div>
<div class="c B" style="left:688px;top:543px;width:37px;height:36px;font-size:14px"><b>بمپنا</b></div>
<div class="c B" style="left:688px;top:580px;width:37px;height:19px"></div>
<div class="c K" style="left:727px;top:543px;width:24px;height:28px"></div>
<div class="c R" style="left:752px;top:543px;width:23px;height:28px"></div>
<div class="c K" style="left:727px;top:572px;width:13px;height:27px"></div>
<div class="c R" style="left:741px;top:572px;width:13px;height:27px"></div>
<div class="c K" style="left:755px;top:572px;width:9px;height:13px"></div>
<div class="c G" style="left:765px;top:572px;width:10px;height:13px"></div>
<div class="c G" style="left:755px;top:586px;width:9px;height:13px"></div>
<div class="c M" style="left:765px;top:586px;width:10px;height:13px"></div>

<!-- G15 بيمه -->
<div class="c R" style="left:688px;top:628px;width:51px;height:53px;font-size:14px"><b>بپاس</b></div>
<div class="c B" style="left:741px;top:628px;width:34px;height:53px;font-size:14px"><b>دانا</b></div>
<div class="c R" style="left:688px;top:682px;width:24px;height:17px"></div>
<div class="c B" style="left:688px;top:700px;width:24px;height:15px"></div>
<div class="c D" style="left:714px;top:682px;width:20px;height:19px"></div>
<div class="c K" style="left:714px;top:702px;width:20px;height:13px"></div>
<div class="c B" style="left:736px;top:682px;width:12px;height:17px"></div>
<div class="c B" style="left:736px;top:700px;width:12px;height:15px"></div>
<div class="c D" style="left:750px;top:682px;width:14px;height:15px"></div>
<div class="c R" style="left:765px;top:682px;width:10px;height:15px"></div>
<div class="c K" style="left:750px;top:698px;width:14px;height:9px"></div>
<div class="c G" style="left:765px;top:698px;width:10px;height:9px"></div>
<div class="c R" style="left:750px;top:708px;width:14px;height:7px"></div>
<div class="c B" style="left:765px;top:708px;width:10px;height:7px"></div>

<!-- G16 حمل ونقل -->
<div class="c R" style="left:688px;top:745px;width:36px;height:48px;font-size:14px"><b>...ح</b></div>
<div class="c R" style="left:726px;top:745px;width:49px;height:22px"></div>
<div class="c R" style="left:726px;top:768px;width:27px;height:25px"></div>
<div class="c K" style="left:754px;top:768px;width:21px;height:25px"></div>
<div class="c B" style="left:688px;top:795px;width:36px;height:32px;font-size:14px"><b>...ح</b></div>
<div class="c B" style="left:726px;top:795px;width:19px;height:16px"></div>
<div class="c R" style="left:746px;top:795px;width:15px;height:16px"></div>
<div class="c B" style="left:762px;top:795px;width:13px;height:16px"></div>
<div class="c B" style="left:726px;top:812px;width:19px;height:15px"></div>
<div class="c D" style="left:746px;top:812px;width:15px;height:15px"></div>
<div class="c R" style="left:762px;top:812px;width:13px;height:9px"></div>
<div class="c B" style="left:762px;top:822px;width:13px;height:5px"></div>

<!-- G17 زراعت -->
<div class="c R" style="left:778px;top:505px;width:21px;height:33px"></div>
<div class="c K" style="left:801px;top:505px;width:27px;height:19px"></div>
<div class="c R" style="left:829px;top:505px;width:24px;height:19px"></div>
<div class="c R" style="left:854px;top:505px;width:16px;height:19px"></div>
<div class="c R" style="left:801px;top:525px;width:27px;height:21px"></div>
<div class="c R" style="left:829px;top:525px;width:12px;height:16px"></div>
<div class="c D" style="left:842px;top:525px;width:11px;height:16px"></div>
<div class="c R" style="left:854px;top:525px;width:16px;height:16px"></div>
<div class="c R" style="left:778px;top:539px;width:21px;height:26px"></div>
<div class="c G" style="left:801px;top:547px;width:27px;height:18px"></div>
<div class="c R" style="left:829px;top:542px;width:14px;height:23px"></div>
<div class="c D" style="left:844px;top:542px;width:9px;height:11px"></div>
<div class="c K" style="left:854px;top:542px;width:8px;height:11px"></div>
<div class="c K" style="left:863px;top:542px;width:7px;height:11px"></div>
<div class="c R" style="left:844px;top:554px;width:9px;height:11px"></div>
<div class="c R" style="left:854px;top:554px;width:16px;height:11px"></div>

<!-- G18 ماشين آلات -->
<div class="c R" style="left:874px;top:505px;width:45px;height:36px;font-size:14px"><b>...انتخ</b></div>
<div class="c R" style="left:920px;top:505px;width:27px;height:33px"></div>
<div class="c G" style="left:948px;top:505px;width:16px;height:43px"></div>
<div class="c B" style="left:874px;top:542px;width:45px;height:23px"></div>
<div class="c R" style="left:920px;top:539px;width:21px;height:17px"></div>
<div class="c G" style="left:942px;top:550px;width:11px;height:7px"></div>
<div class="c R" style="left:954px;top:550px;width:10px;height:7px"></div>
<div class="c R" style="left:920px;top:557px;width:21px;height:8px"></div>
<div class="c R" style="left:942px;top:558px;width:11px;height:7px"></div>
<div class="c K" style="left:954px;top:558px;width:10px;height:7px"></div>

<!-- G19 رايانه -->
<div class="c M" style="left:968px;top:505px;width:44px;height:31px;font-size:14px"><b>...فن ا</b></div>
<div class="c R" style="left:1013px;top:505px;width:26px;height:28px"></div>
<div class="c D" style="left:1040px;top:505px;width:15px;height:28px"></div>
<div class="c B" style="left:968px;top:537px;width:44px;height:28px"></div>
<div class="c K" style="left:1013px;top:534px;width:16px;height:16px"></div>
<div class="c B" style="left:1030px;top:534px;width:11px;height:16px"></div>
<div class="c E" style="left:1042px;top:534px;width:13px;height:16px"></div>
<div class="c R" style="left:1013px;top:551px;width:10px;height:14px"></div>
<div class="c D" style="left:1024px;top:551px;width:9px;height:14px"></div>
<div class="c R" style="left:1034px;top:551px;width:9px;height:14px"></div>
<div class="c K" style="left:1044px;top:551px;width:6px;height:14px"></div>
<div class="c B" style="left:1051px;top:551px;width:4px;height:14px"></div>

<!-- G20 اطلاعات -->
<div class="c B" style="left:778px;top:593px;width:42px;height:70px;font-size:5px;line-height:8px"><b>هاي وب</b><b>2.89%</b></div>
<div class="c M" style="left:822px;top:593px;width:29px;height:49px;font-size:14px"><b>...ا</b></div>
<div class="c D" style="left:822px;top:643px;width:14px;height:20px"></div>
<div class="c R" style="left:837px;top:643px;width:14px;height:14px"></div>
<div class="c D" style="left:837px;top:658px;width:14px;height:5px"></div>

<!-- G21 هتل -->
<div class="c D" style="left:855px;top:593px;width:31px;height:50px;font-size:15px"><b>گدنا</b></div>
<div class="c B" style="left:887px;top:593px;width:36px;height:40px;font-size:15px"><b>سمگا</b></div>
<div class="c R" style="left:887px;top:634px;width:33px;height:9px"></div>
<div class="c K" style="left:921px;top:634px;width:2px;height:9px"></div>

<!-- G22 لاستيك -->
<div class="c B" style="left:927px;top:593px;width:29px;height:50px"></div>
<div class="c K" style="left:957px;top:593px;width:17px;height:28px"></div>
<div class="c R" style="left:975px;top:593px;width:16px;height:28px"></div>
<div class="c D" style="left:957px;top:622px;width:17px;height:11px"></div>
<div class="c M" style="left:975px;top:622px;width:7px;height:11px"></div>
<div class="c R" style="left:983px;top:622px;width:8px;height:11px"></div>
<div class="c G" style="left:957px;top:634px;width:17px;height:9px"></div>
<div class="c R" style="left:975px;top:634px;width:7px;height:9px"></div>
<div class="c M" style="left:983px;top:634px;width:8px;height:9px"></div>

<!-- G23 ماشي -->
<div class="c R" style="left:995px;top:593px;width:26px;height:50px"></div>
<div class="c R" style="left:1022px;top:593px;width:16px;height:18px"></div>
<div class="c G" style="left:1039px;top:593px;width:16px;height:18px"></div>
<div class="c R" style="left:1022px;top:612px;width:16px;height:14px"></div>
<div class="c B" style="left:1039px;top:612px;width:16px;height:14px"></div>
<div class="c R" style="left:1022px;top:627px;width:16px;height:16px"></div>
<div class="c M" style="left:1039px;top:627px;width:8px;height:9px"></div>
<div class="c K" style="left:1048px;top:627px;width:7px;height:9px"></div>
<div class="c B" style="left:1039px;top:637px;width:16px;height:6px"></div>

<!-- G24 خدمات -->
<div class="c R" style="left:778px;top:691px;width:55px;height:58px;font-size:5px;line-height:8px"><b>كيسون</b><b>-2.99%</b></div>
<div class="c R" style="left:834px;top:691px;width:17px;height:51px"></div>
<div class="c B" style="left:834px;top:743px;width:17px;height:6px"></div>

<!-- G25 قند و شكر -->
<div class="c B" style="left:778px;top:777px;width:41px;height:50px;font-size:15px"><b>قچار</b></div>
<div class="c K" style="left:820px;top:777px;width:17px;height:16px"></div>
<div class="c B" style="left:838px;top:777px;width:13px;height:16px"></div>
<div class="c B" style="left:820px;top:794px;width:17px;height:10px"></div>
<div class="c M" style="left:838px;top:794px;width:13px;height:10px"></div>
<div class="c B" style="left:820px;top:805px;width:17px;height:9px"></div>
<div class="c R" style="left:838px;top:805px;width:13px;height:9px"></div>
<div class="c R" style="left:820px;top:815px;width:17px;height:12px"></div>
<div class="c B" style="left:838px;top:815px;width:13px;height:6px"></div>
<div class="c R" style="left:838px;top:822px;width:13px;height:5px"></div>

<!-- small bottom-right groups -->
<div class="c B" style="left:855px;top:671px;width:62px;height:37px;font-size:5px;line-height:8px"><b>حكشتي</b><b>2.97%</b></div>
<div class="c D" style="left:920px;top:671px;width:15px;height:22px"></div>
<div class="c K" style="left:936px;top:671px;width:20px;height:12px"></div>
<div class="c R" style="left:957px;top:671px;width:10px;height:12px"></div>
<div class="c B" style="left:968px;top:671px;width:9px;height:12px"></div>
<div class="c K" style="left:978px;top:671px;width:9px;height:12px"></div>
<div class="c R" style="left:936px;top:684px;width:20px;height:9px"></div>
<div class="c D" style="left:957px;top:684px;width:10px;height:9px"></div>
<div class="c G" style="left:968px;top:684px;width:9px;height:9px"></div>
<div class="c B" style="left:978px;top:684px;width:9px;height:9px"></div>
<div class="c B" style="left:990px;top:671px;width:48px;height:22px"></div>
<div class="c R" style="left:1039px;top:671px;width:16px;height:22px"></div>
<div class="c G" style="left:921px;top:721px;width:23px;height:38px"></div>
<div class="c D" style="left:945px;top:721px;width:18px;height:13px"></div>
<div class="c B" style="left:945px;top:735px;width:18px;height:12px"></div>
<div class="c R" style="left:945px;top:748px;width:8px;height:11px"></div>
<div class="c R" style="left:954px;top:748px;width:9px;height:11px"></div>
<div class="c R" style="left:967px;top:721px;width:36px;height:28px"></div>
<div class="c R" style="left:1004px;top:721px;width:3px;height:28px"></div>
<div class="c M" style="left:1012px;top:721px;width:42px;height:28px"></div>
<div class="c M" style="left:855px;top:735px;width:23px;height:17px"></div>
<div class="c B" style="left:879px;top:735px;width:20px;height:17px"></div>
<div class="c R" style="left:900px;top:735px;width:17px;height:11px"></div>
<div class="c D" style="left:900px;top:747px;width:17px;height:10px"></div>
<div class="c B" style="left:855px;top:753px;width:23px;height:18px"></div>
<div class="c R" style="left:879px;top:753px;width:20px;height:18px"></div>
<div class="c R" style="left:900px;top:758px;width:9px;height:13px"></div>
<div class="c R" style="left:910px;top:758px;width:7px;height:13px"></div>
<div class="c R" style="left:855px;top:797px;width:62px;height:30px"></div>
<div class="c R" style="left:921px;top:787px;width:38px;height:26px"></div>
<div class="c R" style="left:921px;top:814px;width:38px;height:13px"></div>
<div class="c D" style="left:960px;top:787px;width:3px;height:14px"></div>
<div class="c K" style="left:960px;top:802px;width:3px;height:11px"></div>
<div class="c R" style="left:967px;top:776px;width:29px;height:16px"></div>
<div class="c D" style="left:997px;top:776px;width:5px;height:11px"></div>
<div class="c B" style="left:997px;top:788px;width:5px;height:4px"></div>
<div class="c R" style="left:967px;top:820px;width:31px;height:7px"></div>
<div class="c D" style="left:999px;top:820px;width:3px;height:7px"></div>
<div class="c R" style="left:1006px;top:777px;width:14px;height:6px"></div>
<div class="c B" style="left:1021px;top:777px;width:5px;height:6px"></div>
<div class="c R" style="left:1027px;top:777px;width:6px;height:6px"></div>
<div class="c B" style="left:1037px;top:777px;width:18px;height:6px"></div>
<div class="c R" style="left:1006px;top:809px;width:14px;height:3px"></div>
<div class="c B" style="left:1021px;top:809px;width:12px;height:3px"></div>

</body></html>
